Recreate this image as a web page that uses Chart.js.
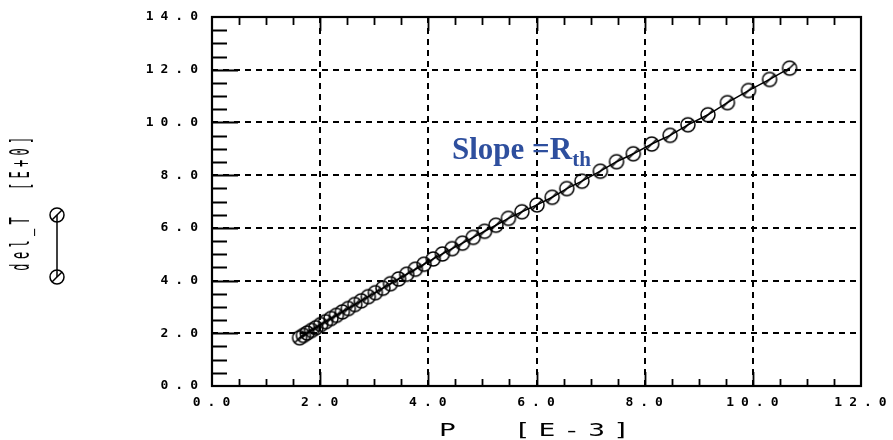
<!DOCTYPE html>
<html>
<head>
<meta charset="utf-8">
<script src="https://cdn.jsdelivr.net/npm/chart.js@4.4.0/dist/chart.umd.min.js"></script>
<style>
  html, body { margin: 0; padding: 0; background: #fff; }
</style>
</head>
<body>
<canvas id="rthChart" width="893" height="440"></canvas>
<script>
// measured sweep: power P [E-3] against temperature rise del_T [E+0]
const powerValues = [
  1.62, 1.69, 1.76, 1.84, 1.92, 2.01, 2.10, 2.20, 2.30, 2.41, 2.52, 2.64,
  2.76, 2.89, 3.02, 3.16, 3.30, 3.45, 3.60, 3.76, 3.92, 4.09, 4.26, 4.44,
  4.63, 4.83, 5.04, 5.25, 5.48, 5.73, 6.01, 6.29, 6.56, 6.84, 7.18, 7.48,
  7.79, 8.13, 8.47, 8.80, 9.17, 9.53, 9.92, 10.31, 10.68,
];
const deltaTValues = [
  1.83, 1.92, 2.01, 2.11, 2.21, 2.33, 2.44, 2.56, 2.68, 2.81, 2.94, 3.09,
  3.23, 3.39, 3.54, 3.71, 3.88, 4.06, 4.24, 4.43, 4.62, 4.82, 5.01, 5.21,
  5.42, 5.64, 5.87, 6.10, 6.36, 6.61, 6.87, 7.16, 7.49, 7.77, 8.15, 8.51,
  8.81, 9.18, 9.51, 9.91, 10.29, 10.75, 11.21, 11.63, 12.06,
];

const xTickValues = [0, 2, 4, 6, 8, 10, 12];
const yTickValues = [0, 2, 4, 6, 8, 10, 12, 14];
const xTitle = "P  [E-3]";
const yTitle = "del_T  [E+0]";
const slopeLabel = "Slope =R";
const slopeSub = "th";

// circle marker with a slash through it, like the plotter symbol
function slashedCircle(r) {
  const c = document.createElement("canvas");
  const s = r * 2 + 4;
  c.width = s;
  c.height = s;
  const g = c.getContext("2d");
  g.strokeStyle = "#000";
  g.lineWidth = 1.5;
  g.beginPath();
  g.arc(s / 2, s / 2, r, 0, Math.PI * 2);
  g.stroke();
  g.beginPath();
  g.moveTo(s / 2 - r * 0.72, s / 2 + r * 0.72);
  g.lineTo(s / 2 + r * 0.72, s / 2 - r * 0.72);
  g.stroke();
  return c;
}
const marker = slashedCircle(7);

const tickFont = { family: "DejaVu Sans Mono", size: 13, weight: "bold" };

// frame, inward ticks, axis titles, legend symbol and slope note
const plotterDecor = {
  id: "plotterDecor",
  beforeDraw(chart) {
    chart.ctx.letterSpacing = "7px";
  },
  afterDraw(chart) {
    const { ctx, chartArea: a, scales } = chart;
    const xs = scales.x;
    const ys = scales.y;
    ctx.save();
    ctx.letterSpacing = "0px";
    ctx.strokeStyle = "#000";
    ctx.fillStyle = "#000";
    ctx.setLineDash([]);

    // inward ticks every 0.5
    ctx.lineWidth = 1.8;
    ctx.beginPath();
    for (let i = 1; i < 24; i++) {
      const v = i * 0.5;
      const px = Math.round(xs.getPixelForValue(v)) + 0.5;
      const major = i % 4 === 0;
      ctx.moveTo(px, a.bottom);
      ctx.lineTo(px, a.bottom - (major ? 14 : 7));
      ctx.moveTo(px, a.top);
      ctx.lineTo(px, a.top + (major ? 14 : 8));
    }
    for (let i = 1; i < 28; i++) {
      const v = i * 0.5;
      const py = Math.round(ys.getPixelForValue(v)) + 0.5;
      const major = i % 4 === 0;
      ctx.moveTo(a.left, py);
      ctx.lineTo(a.left + (major ? 26 : 15), py);
    }
    ctx.stroke();

    // frame
    ctx.lineWidth = 2.2;
    ctx.strokeRect(a.left, a.top, a.right - a.left, a.bottom - a.top);

    // x title, wide plotter letters
    ctx.save();
    ctx.translate((a.left + a.right) / 2 + 2, 431);
    ctx.scale(2, 1.25);
    ctx.font = "14px 'DejaVu Sans Mono'";
    ctx.letterSpacing = "4px";
    ctx.textAlign = "center";
    ctx.textBaseline = "middle";
    ctx.fillText(xTitle, 0, 0);
    ctx.restore();

    // y title, tall plotter letters
    ctx.save();
    ctx.translate(22, (a.top + a.bottom) / 2);
    ctx.rotate(-Math.PI / 2);
    ctx.scale(1, 2.2);
    ctx.font = "12px 'DejaVu Sans Mono'";
    ctx.letterSpacing = "4.3px";
    ctx.textAlign = "center";
    ctx.textBaseline = "middle";
    ctx.fillText(yTitle, 0, 0);
    ctx.restore();

    // legend symbol next to the y title
    ctx.lineWidth = 1.5;
    ctx.beginPath();
    ctx.moveTo(57, 215);
    ctx.lineTo(57, 277);
    ctx.stroke();
    ctx.drawImage(marker, 57 - marker.width / 2, 215 - marker.height / 2);
    ctx.drawImage(marker, 57 - marker.width / 2, 277 - marker.height / 2);

    // slope note
    ctx.fillStyle = "#2e4f9e";
    ctx.textAlign = "left";
    ctx.textBaseline = "alphabetic";
    ctx.font = "bold 31px 'Liberation Serif'";
    ctx.fillText(slopeLabel, 452, 159);
    const w = ctx.measureText(slopeLabel).width;
    ctx.font = "bold 21px 'Liberation Serif'";
    ctx.fillText(slopeSub, 452 + w, 166);
    ctx.restore();
  },
};

const ctx = document.getElementById("rthChart").getContext("2d");

new Chart(ctx, {
  type: "scatter",
  data: {
    datasets: [
      {
        label: "del_T",
        data: powerValues.map((p, i) => ({ x: p, y: deltaTValues[i] })),
        showLine: true,
        borderColor: "#000",
        borderWidth: 1.5,
        pointStyle: marker,
        pointRadius: 7,
      },
    ],
  },
  options: {
    responsive: false,
    animation: false,
    devicePixelRatio: 1,
    layout: { padding: { left: 0, right: 32, top: 17, bottom: 0 } },
    plugins: {
      legend: { display: false },
      tooltip: { enabled: false },
    },
    scales: {
      x: {
        type: "linear",
        min: 0,
        max: 12,
        afterBuildTicks: (scale) => {
          scale.ticks = xTickValues.map((v) => ({ value: v }));
        },
        afterFit: (scale) => {
          scale.height = 54;
        },
        ticks: {
          font: tickFont,
          color: "#000",
          padding: 9,
          labelOffset: 3,
          maxRotation: 0,
          autoSkip: false,
          callback: (v) => Number(v).toFixed(1),
        },
        grid: { color: "#000", lineWidth: 2, drawTicks: false },
        border: { display: false, dash: [6, 5] },
      },
      y: {
        type: "linear",
        min: 0,
        max: 14,
        afterBuildTicks: (scale) => {
          scale.ticks = yTickValues.map((v) => ({ value: v }));
        },
        afterFit: (scale) => {
          scale.width = 212;
        },
        ticks: {
          font: tickFont,
          color: "#000",
          padding: 7,
          autoSkip: false,
          callback: (v) => Number(v).toFixed(1),
        },
        grid: { color: "#000", lineWidth: 2, drawTicks: false },
        border: { display: false, dash: [6, 5] },
      },
    },
  },
  plugins: [plotterDecor],
});
</script>
</body>
</html>
